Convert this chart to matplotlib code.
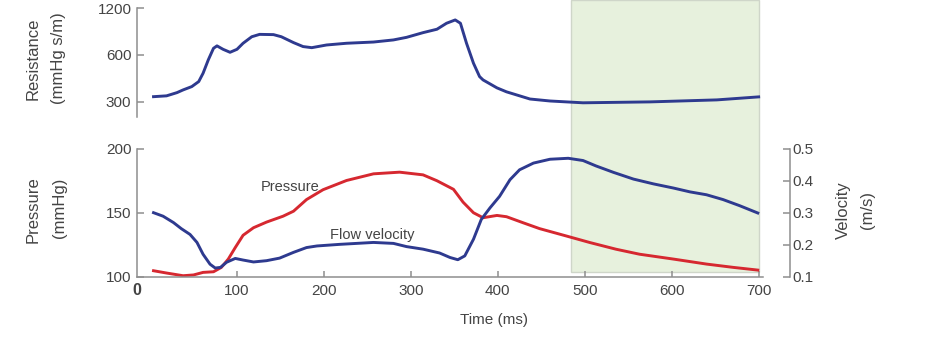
import matplotlib
matplotlib.use("Agg")
import matplotlib.pyplot as plt
from matplotlib.patches import Rectangle
from matplotlib.transforms import blended_transform_factory

plt.rcParams['font.family'] = ['Liberation Sans', 'DejaVu Sans']

# ---- data ----
res_t = [4, 19, 31, 38, 48, 56, 61, 67, 73, 77, 84, 92, 100, 107, 117, 126, 142, 151,
         165, 176, 186, 203, 226, 257, 280, 295, 314, 330, 341, 351, 357, 364, 372,
         379, 383, 399, 410, 437, 460, 498, 575, 652, 700]
res_v = [324, 328, 344, 358, 376, 405, 458, 558, 662, 686, 652, 624, 652, 713, 785,
         813, 810, 785, 720, 679, 668, 695, 713, 726, 749, 778, 834, 877, 958, 1006,
         958, 713, 531, 436, 415, 369, 348, 313, 304, 296, 300, 309, 323]

vel_t = [4, 15, 27, 36, 46, 54, 61, 69, 75, 81, 88, 98, 107, 119, 134, 149, 165, 180,
         192, 218, 257, 280, 295, 314, 333, 345, 354, 362, 372, 381, 391, 402, 414,
         425, 441, 460, 481, 498, 513, 533, 556, 579, 602, 621, 640, 659, 678, 699]
vel_v = [0.301, 0.290, 0.270, 0.251, 0.233, 0.208, 0.171, 0.140, 0.128, 0.130, 0.146,
         0.158, 0.153, 0.147, 0.151, 0.159, 0.177, 0.192, 0.197, 0.202, 0.208, 0.205,
         0.195, 0.187, 0.175, 0.161, 0.154, 0.166, 0.218, 0.280, 0.316, 0.352, 0.404,
         0.435, 0.456, 0.468, 0.471, 0.464, 0.447, 0.427, 0.406, 0.391, 0.378, 0.366,
         0.357, 0.342, 0.323, 0.300]

pr_t = [4, 19, 38, 50, 61, 73, 82, 90, 98, 107, 119, 134, 153, 165, 180, 199, 226,
        257, 287, 314, 330, 349, 360, 372, 383, 399, 410, 429, 448, 479, 506, 536,
        563, 602, 640, 671, 699]
pr_v = [104.9, 103.1, 101.0, 101.6, 103.6, 104.1, 107.5, 114.0, 123.0, 132.6, 138.5,
        142.9, 147.5, 151.4, 160.5, 168.2, 175.4, 180.6, 181.9, 179.8, 175.2, 168.5,
        158.5, 150.2, 146.3, 148.1, 147.1, 142.4, 137.8, 132.0, 126.9, 121.7, 117.8,
        114.0, 110.1, 107.5, 105.4]

shade_span = [484, 700]
x_ticks = [100, 200, 300, 400, 500, 600, 700]
res_ticks = [300, 600, 1200]
pr_ticks = [100, 150, 200]
vel_ticks = [0.1, 0.2, 0.3, 0.4, 0.5]

BLUE = '#2e3a8f'
RED = '#d62830'
GRAY = '#8e8e8e'
TXT = '#444444'
W, H = 926, 351

fig = plt.figure(figsize=(W / 100, H / 100), dpi=100)

def fx(px):
    return px / W

def fy(py):
    return 1 - py / H

ax1 = fig.add_axes([fx(137), fy(117), fx(763) - fx(137), fy(8) - fy(117)])
ax2 = fig.add_axes([fx(137), fy(277), fx(763) - fx(137), fy(149) - fy(277)])
ax3 = ax2.twinx()
for a in (ax1, ax2, ax3):
    a.set_facecolor('none')
    a.set_xlim(-15, 705)
    for s in a.spines.values():
        s.set_color(GRAY)
        s.set_linewidth(1.1)

# top panel
ax1.set_yscale('log')
ax1.set_ylim(240, 1200)
ax1.plot(res_t, res_v, color=BLUE, lw=2.1, solid_joinstyle='round')
ax1.set_yticks(res_ticks)
ax1.set_yticklabels([str(v) for v in res_ticks])
ax1.yaxis.set_minor_locator(matplotlib.ticker.NullLocator())
ax1.set_xticks([])
for s in ('top', 'right', 'bottom'):
    ax1.spines[s].set_visible(False)
ax1.tick_params(axis='y', direction='in', length=5, width=1.1, color=GRAY,
                labelsize=11, labelcolor=TXT, pad=4)

# bottom panel
ax2.set_ylim(100, 200)
ax2.plot(pr_t, pr_v, color=RED, lw=2.1, solid_joinstyle='round')
ax2.set_yticks(pr_ticks)
ax2.set_xticks(x_ticks)
ax2.spines['top'].set_visible(False)
ax2.spines['right'].set_visible(False)
ax2.tick_params(axis='y', direction='in', length=5, width=1.1, color=GRAY,
                labelsize=11, labelcolor=TXT, pad=4)
ax2.tick_params(axis='x', direction='in', length=4, width=1.1, color=GRAY,
                labelsize=11, labelcolor=TXT, pad=5)
ax2.text(-15, 95.6, '0', ha='center', va='top', fontsize=11.5, color=TXT,
         fontweight='bold')

ax3.set_ylim(0.1, 0.5)
ax3.plot(vel_t, vel_v, color=BLUE, lw=2.1, solid_joinstyle='round')
ax3.set_yticks(vel_ticks)
ax3.set_yticklabels([f'{v:.1f}' for v in vel_ticks])
for s in ('top', 'left', 'bottom'):
    ax3.spines[s].set_visible(False)
ax3.spines['right'].set_position(('outward', 19.5))
ax3.tick_params(axis='y', direction='in', length=5, width=1.1, color=GRAY,
                labelsize=11, labelcolor=TXT, pad=2)

# annotations
ax2.text(161, 170.5, 'Pressure', ha='center', va='center', fontsize=10.5, color=TXT)
ax2.text(256, 133, 'Flow velocity', ha='center', va='center', fontsize=10.5, color=TXT)

# shaded region spanning both panels
tr = blended_transform_factory(ax2.transData, fig.transFigure)
rect = Rectangle((shade_span[0], fy(272)), shade_span[1] - shade_span[0], 1 - fy(272),
                 transform=tr, facecolor='#e7f1dd', edgecolor='#cfd6c9', lw=1.0,
                 zorder=-1, clip_on=False)
fig.add_artist(rect)
rect.set_zorder(-1)

# axis labels
lab = dict(rotation=90, ha='center', va='center', fontsize=12, color=TXT)
fig.text(fx(33), fy(59), 'Resistance', **lab)
fig.text(fx(59), fy(58), '(mmHg s/m)', **lab)
fig.text(fx(33), fy(210), 'Pressure', **lab)
fig.text(fx(60), fy(208), '(mmHg)', **lab)
fig.text(fx(843), fy(210), 'Velocity', **lab)
fig.text(fx(868), fy(210), '(m/s)', **lab)
fig.text(fx(494), fy(320), 'Time (ms)', ha='center', va='center', fontsize=11, color=TXT)

fig.savefig('out.png', dpi=100)
